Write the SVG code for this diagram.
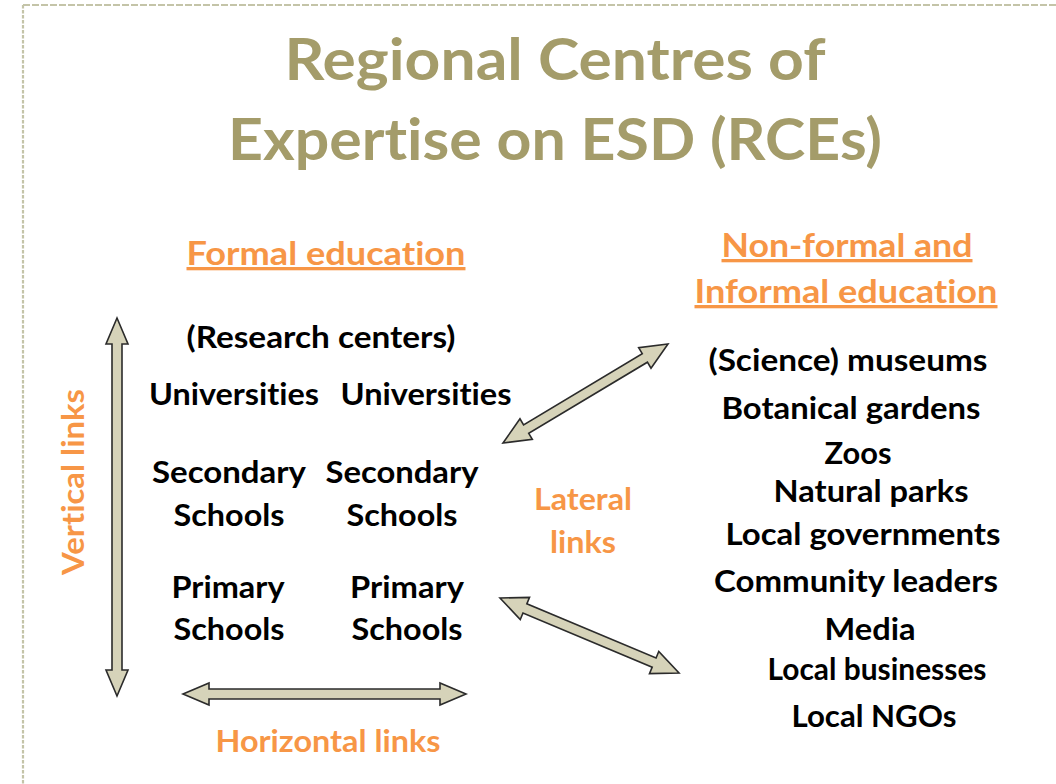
<svg xmlns="http://www.w3.org/2000/svg" width="1056" height="784" viewBox="0 0 1056 784">
<style>
.t{font-family:Lato,"Open Sans","Liberation Sans",sans-serif;font-weight:bold;text-anchor:middle;font-variant-ligatures:none;font-feature-settings:"liga" 0,"clig" 0}
.title{fill:#a49c6a;font-size:58px}
.head{fill:#f79646;font-size:33px;text-decoration:underline}
.lbl{fill:#f79646;font-size:30px}
.item{fill:#000;font-size:29.5px}
.arr{fill:#d6d3b9;stroke:#2b2b2b;stroke-width:1.6;stroke-linejoin:miter}
.frame{stroke:#c4c4a8;stroke-width:2.2;fill:none}
</style>
<rect width="1056" height="784" fill="#ffffff"/>
<line class="frame" x1="23" y1="5" x2="1056" y2="5" stroke-dasharray="7 2"/>
<line class="frame" x1="23" y1="5" x2="23" y2="784" stroke-dasharray="3.5 1.5"/>

<g id="title">
<text class="t title" x="555" y="80" textLength="541" lengthAdjust="spacingAndGlyphs">Regional Centres of</text>
<text class="t title" x="555" y="160" textLength="654" lengthAdjust="spacingAndGlyphs">Expertise on ESD (RCEs)</text>
</g>

<g id="formal-heading">
<text class="t head" x="326" y="265" textLength="279" lengthAdjust="spacingAndGlyphs">Formal education</text>
</g>
<g id="nonformal-heading">
<text class="t head" x="847" y="257" textLength="251" lengthAdjust="spacingAndGlyphs">Non-formal and</text>
<text class="t head" x="846" y="303" textLength="303" lengthAdjust="spacingAndGlyphs">Informal education</text>
</g>

<g id="formal-left">
<text class="t item" x="321" y="348" textLength="269" lengthAdjust="spacingAndGlyphs">(Research centers)</text>
<text class="t item" x="234" y="405" textLength="170" lengthAdjust="spacingAndGlyphs">Universities</text>
<text class="t item" x="229" y="483" textLength="154" lengthAdjust="spacingAndGlyphs">Secondary</text>
<text class="t item" x="229" y="526" textLength="111" lengthAdjust="spacingAndGlyphs">Schools</text>
<text class="t item" x="228" y="598" textLength="113" lengthAdjust="spacingAndGlyphs">Primary</text>
<text class="t item" x="229" y="640" textLength="111" lengthAdjust="spacingAndGlyphs">Schools</text>
</g>
<g id="formal-right">
<text class="t item" x="426" y="405" textLength="171" lengthAdjust="spacingAndGlyphs">Universities</text>
<text class="t item" x="402" y="483" textLength="153" lengthAdjust="spacingAndGlyphs">Secondary</text>
<text class="t item" x="402" y="526" textLength="111" lengthAdjust="spacingAndGlyphs">Schools</text>
<text class="t item" x="407" y="598" textLength="114" lengthAdjust="spacingAndGlyphs">Primary</text>
<text class="t item" x="407" y="640" textLength="111" lengthAdjust="spacingAndGlyphs">Schools</text>
</g>

<g id="nonformal-list">
<text class="t item" x="848" y="371" textLength="279" lengthAdjust="spacingAndGlyphs">(Science) museums</text>
<text class="t item" x="851" y="419" textLength="259" lengthAdjust="spacingAndGlyphs">Botanical gardens</text>
<text class="t item" x="858" y="464" textLength="67" lengthAdjust="spacingAndGlyphs">Zoos</text>
<text class="t item" x="871" y="502" textLength="195" lengthAdjust="spacingAndGlyphs">Natural parks</text>
<text class="t item" x="863" y="545" textLength="275" lengthAdjust="spacingAndGlyphs">Local governments</text>
<text class="t item" x="856" y="592" textLength="284" lengthAdjust="spacingAndGlyphs">Community leaders</text>
<text class="t item" x="870" y="640" textLength="91" lengthAdjust="spacingAndGlyphs">Media</text>
<text class="t item" x="877" y="680" font-size="26" textLength="219" lengthAdjust="spacingAndGlyphs">Local businesses</text>
<text class="t item" x="874" y="727" textLength="165" lengthAdjust="spacingAndGlyphs">Local NGOs</text>
</g>

<g id="labels">
<text class="t lbl" x="583" y="510" textLength="98" lengthAdjust="spacingAndGlyphs">Lateral</text>
<text class="t lbl" x="583" y="553" textLength="66" lengthAdjust="spacingAndGlyphs">links</text>
<text class="t lbl" x="328" y="752" textLength="225" lengthAdjust="spacingAndGlyphs">Horizontal links</text>
<text class="t lbl" transform="translate(84 482) rotate(-90)" x="0" y="0" textLength="186" lengthAdjust="spacingAndGlyphs">Vertical links</text>
</g>

<g id="connectors">
<polygon class="arr" points="117,318 128,344 122,344 122,670 128,670 117,696 106,670 112,670 112,344 106,344"/>
<polygon class="arr" points="183,694 209,683 209,689 440,689 440,683 466,694 440,705 440,699 209,699 209,705"/>
<path class="arr" transform="translate(503 443) rotate(-30.96)" d="M0,0 L27,-12 L27,-5 L165.4,-5 L165.4,-12 L192.4,0 L165.4,12 L165.4,5 L27,5 L27,12 Z"/>
<path class="arr" transform="translate(500 598) rotate(22.73)" d="M0,0 L27,-12 L27,-5 L167.1,-5 L167.1,-12 L194.1,0 L167.1,12 L167.1,5 L27,5 L27,12 Z"/>
</g>
</svg>
